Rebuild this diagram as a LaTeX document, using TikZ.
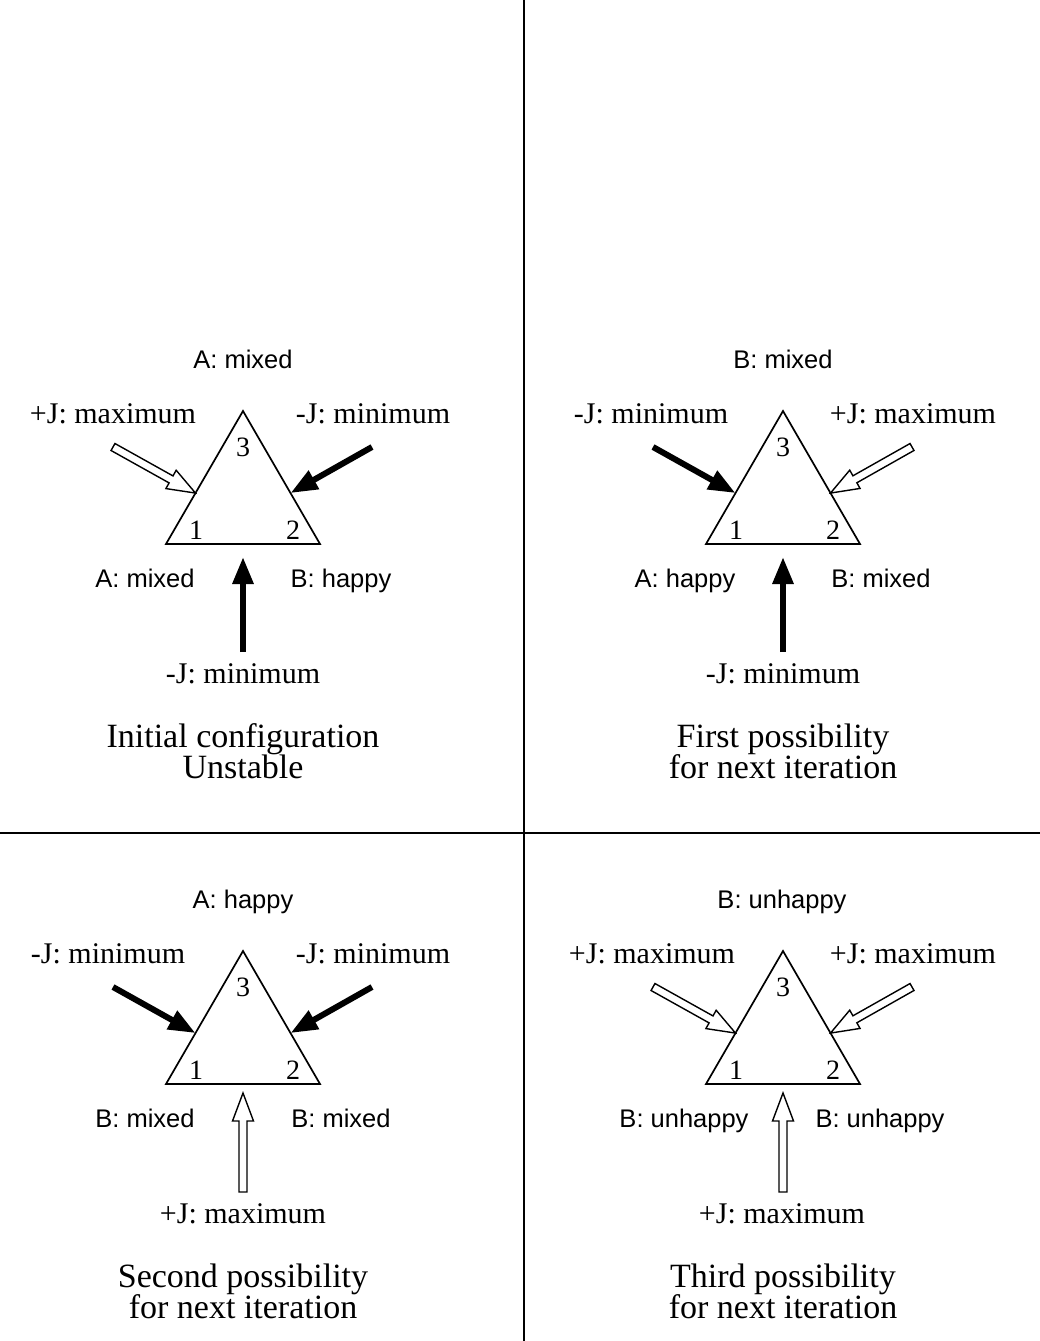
\documentclass[tikz,border=0pt]{standalone}
\usepackage{fontspec}
\setmainfont{Liberation Serif}
\setsansfont{Liberation Sans}
\usetikzlibrary{arrows.meta,calc}
\tikzset{
  lab/.style={font=\sffamily\fontsize{25.5}{29}\selectfont, anchor=base, inner sep=0pt},
  jlab/.style={font=\fontsize{30}{34}\selectfont, anchor=base, inner sep=0pt},
  num/.style={font=\fontsize{28}{32}\selectfont, inner sep=0pt},
  capt/.style={font=\fontsize{34}{31}\selectfont, anchor=base, inner sep=0pt},
  tri/.style={line width=1.7pt, line join=miter},
  divider/.style={line width=2pt},
  fullarrow/.style={line width=6pt, -{Triangle[length=27pt,width=20pt]}},
  hollowarrow/.style={line width=1.4pt, line join=miter,
    to path={let \p1=(\tikztostart), \p2=(\tikztotarget),
      \n1={atan2(\y2-\y1,\x2-\x1)} in
      ($(\p1)+(\n1-90:4pt)$) -- ($(\p2)+(\n1+180:28pt)+(\n1-90:4pt)$)
      -- ($(\p2)+(\n1+180:28pt)+(\n1-90:10.5pt)$) -- (\p2)
      -- ($(\p2)+(\n1+180:28pt)+(\n1+90:10.5pt)$)
      -- ($(\p2)+(\n1+180:28pt)+(\n1+90:4pt)$)
      -- ($(\p1)+(\n1+90:4pt)$) -- cycle}},
}
\newcommand\tripanel[1]{%
  \coordinate (#1v1) at (166,544);
  \coordinate (#1v2) at (320,544);
  \coordinate (#1v3) at (243,411);
  \draw[tri] (#1v1) -- (#1v2) -- (#1v3) -- cycle;
  \node[num] (#1n1) at (196,530) {1};
  \node[num] (#1n2) at (293,530) {2};
  \node[num] (#1n3) at (243,447) {3};
  \coordinate (#1hl) at ($(#1v1)!0.383!(#1v3)$);
  \coordinate (#1hr) at ($(#1v2)!0.383!(#1v3)$);
  \coordinate (#1tl) at (113,447);
  \coordinate (#1tr) at (372,447);
  \coordinate (#1tb) at (243,652);
  \coordinate (#1hbf) at (243,557);
  \coordinate (#1hbo) at (243,553);
}
\begin{document}
\begin{tikzpicture}[x=1pt,y=-1pt]
\useasboundingbox (0,0) rectangle (1040,1341);
\coordinate (vt) at (524,0);
\coordinate (vb) at (524,1341);
\coordinate (hl) at (0,833);
\coordinate (hr) at (1040,833);
\draw[divider] (vt) -- (vb);
\draw[divider] (hl) -- (hr);

% Panel 1
\begin{scope}
  \tripanel{a}
  \node[lab] (atop) at (243,368) {A: mixed};
  \node[jlab] (ajl) at (113,423) {+J: maximum};
  \node[jlab] (ajr) at (373,423) {-J: minimum};
  \node[lab] (abl) at (145,587) {A: mixed};
  \node[lab] (abr) at (341,587) {B: happy};
  \node[jlab] (ajb) at (243,683) {-J: minimum};
  \node[capt] (ac1) at (243,747) {Initial configuration};
  \node[capt] (ac2) at (243,778) {Unstable};
  \draw[hollowarrow] (atl) to (ahl);
  \draw[fullarrow] (atr) -- (ahr);
  \draw[fullarrow] (atb) -- (ahbf);
\end{scope}

% Panel 2
\begin{scope}[shift={(540,0)}]
  \tripanel{b}
  \node[lab] (btop) at (243,368) {B: mixed};
  \node[jlab] (bjl) at (111,423) {-J: minimum};
  \node[jlab] (bjr) at (373,423) {+J: maximum};
  \node[lab] (bbl) at (145,587) {A: happy};
  \node[lab] (bbr) at (341,587) {B: mixed};
  \node[jlab] (bjb) at (243,683) {-J: minimum};
  \node[capt] (bc1) at (243,747) {First possibility};
  \node[capt] (bc2) at (243,778) {for next iteration};
  \draw[fullarrow] (btl) -- (bhl);
  \draw[hollowarrow] (btr) to (bhr);
  \draw[fullarrow] (btb) -- (bhbf);
\end{scope}

% Panel 3
\begin{scope}[shift={(0,540)}]
  \tripanel{c}
  \node[lab] (ctop) at (243,368) {A: happy};
  \node[jlab] (cjl) at (108,423) {-J: minimum};
  \node[jlab] (cjr) at (373,423) {-J: minimum};
  \node[lab] (cbl) at (145,587) {B: mixed};
  \node[lab] (cbr) at (341,587) {B: mixed};
  \node[jlab] (cjb) at (243,683) {+J: maximum};
  \node[capt] (cc1) at (243,747) {Second possibility};
  \node[capt] (cc2) at (243,778) {for next iteration};
  \draw[fullarrow] (ctl) -- (chl);
  \draw[fullarrow] (ctr) -- (chr);
  \draw[hollowarrow] (ctb) to (chbo);
\end{scope}

% Panel 4
\begin{scope}[shift={(540,540)}]
  \tripanel{d}
  \node[lab] (dtop) at (242,368) {B: unhappy};
  \node[jlab] (djl) at (112,423) {+J: maximum};
  \node[jlab] (djr) at (373,423) {+J: maximum};
  \node[lab] (dbl) at (144,587) {B: unhappy};
  \node[lab] (dbr) at (340,587) {B: unhappy};
  \node[jlab] (djb) at (242,683) {+J: maximum};
  \node[capt] (dc1) at (243,747) {Third possibility};
  \node[capt] (dc2) at (243,778) {for next iteration};
  \draw[hollowarrow] (dtl) to (dhl);
  \draw[hollowarrow] (dtr) to (dhr);
  \draw[hollowarrow] (dtb) to (dhbo);
\end{scope}
\end{tikzpicture}
\end{document}
